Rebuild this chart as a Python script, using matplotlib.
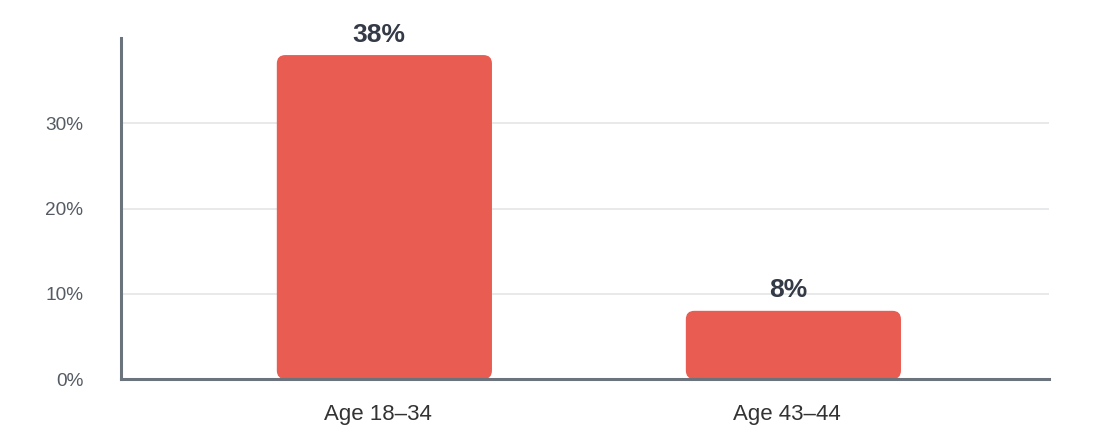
import matplotlib
matplotlib.use("Agg")
import matplotlib.pyplot as plt
from matplotlib.patches import FancyBboxPatch
from matplotlib.ticker import FuncFormatter
from matplotlib.transforms import ScaledTranslation

categories = ["Age 18\u201334", "Age 43\u201344"]
values = [38, 8]
value_labels = ["38%", "8%"]
y_ticks = [0, 10, 20, 30]

plt.rcParams['font.family'] = ['Liberation Sans', 'DejaVu Sans']

fig = plt.figure(figsize=(11.16, 4.37), dpi=100)
ax = fig.add_axes([0.1084, 0.1327, 0.8316, 0.7803])

x = list(range(len(categories)))
width = 0.526
bars = ax.bar(x, values, width=width, color="none", edgecolor="none")
ax.set_xlim(-0.644, 1.625)
ax.set_ylim(0, 40)

# compute aspect for rounded corners
fig.canvas.draw()
p0 = ax.transData.transform((0, 0))
p1 = ax.transData.transform((1, 1))
px_per_x = p1[0] - p0[0]
px_per_y = p1[1] - p0[1]
aspect = px_per_x / px_per_y
radius_px = 8.5
for b in bars:
    bx, by = b.get_x(), b.get_y()
    bw, bh = b.get_width(), b.get_height()
    patch = FancyBboxPatch((bx, by), bw, bh,
                           boxstyle=f"round,pad=0,rounding_size={radius_px/px_per_x}",
                           mutation_aspect=aspect,
                           facecolor="#E85C51", edgecolor="none", zorder=2)
    ax.add_patch(patch)
    b.remove()

for xi, v, lab in zip(x, values, value_labels):
    ax.annotate(lab, (xi, v), xytext=(-4, 6), textcoords="offset points",
                ha="center", va="bottom", fontsize=19, fontweight="bold",
                color="#343a46")

ax.set_yticks(y_ticks)
ax.yaxis.set_major_formatter(FuncFormatter(lambda v, p: f"{v:.0f}%"))
ax.set_xticks(x)
ax.set_xticklabels(categories)
ax.tick_params(axis="y", length=0, pad=27, labelsize=13.7, labelcolor="#555b63")
ax.tick_params(axis="x", length=0, pad=18, labelsize=16, labelcolor="#333333")
shift = ScaledTranslation(-5 / 72, 0, fig.dpi_scale_trans)
for t in ax.get_xticklabels():
    t.set_transform(t.get_transform() + shift)

ax.grid(axis="y", color="#e3e5e8", linewidth=1.2, zorder=0)
ax.set_axisbelow(True)
for s in ["top", "right"]:
    ax.spines[s].set_visible(False)
for s in ["left", "bottom"]:
    ax.spines[s].set_color("#6b737c")
    ax.spines[s].set_linewidth(2.2)
    ax.spines[s].set_zorder(3)

fig.savefig("out.png", dpi=100)
